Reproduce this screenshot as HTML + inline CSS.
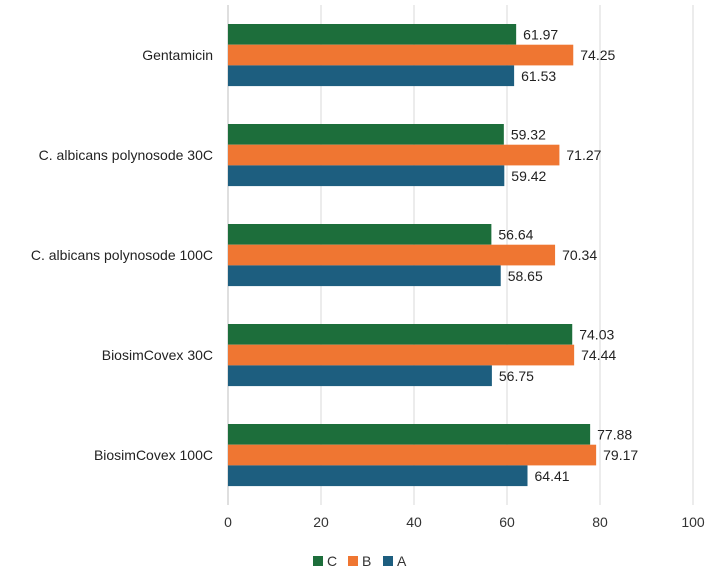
<!DOCTYPE html>
<html><head><meta charset="utf-8"><style>
body{margin:0;background:#fff;font-family:"Liberation Sans",sans-serif;}
</style></head><body>
<svg id="chart" width="711" height="570" xmlns="http://www.w3.org/2000/svg" font-family="Liberation Sans, sans-serif"></svg>
<script>
const categories=["Gentamicin","C. albicans polynosode 30C","C. albicans polynosode 100C","BiosimCovex 30C","BiosimCovex 100C"];
const seriesC=[61.97,59.32,56.64,74.03,77.88];
const seriesB=[74.25,71.27,70.34,74.44,79.17];
const seriesA=[61.53,59.42,58.65,56.75,64.41];
const ticks=[0,20,40,60,80,100];
const seriesNames=["C","B","A"];
const colors=["#1d6e3b","#ef7632","#1d5e7f"];
const svg=document.getElementById('chart');
const NS="http://www.w3.org/2000/svg";
const x0=228,x1=693,yTop=5,yBottom=505;
const xs=v=>x0+(v/100)*(x1-x0);
const bandH=(yBottom-yTop)/categories.length;
function mk(t,a,txt){const e=document.createElementNS(NS,t);for(const k in a)e.setAttribute(k,a[k]);if(txt!==undefined)e.textContent=txt;svg.appendChild(e);return e;}
ticks.forEach(t=>{
 const g=mk('line',{x1:xs(t),x2:xs(t),y1:yTop,y2:yBottom,stroke:t===0?'#bfbfbf':'#d9d9d9','stroke-width':1});
 
 
 const l=mk('text',{x:xs(t),y:527,'text-anchor':'middle','font-size':14,fill:'#333'},String(t));
 
 
});
const all=[seriesC,seriesB,seriesA];
categories.forEach((c,i)=>{
 const gTop=yTop+i*bandH+19;
 const lab=mk('text',{x:213,y:yTop+i*bandH+bandH/2+5,'text-anchor':'end','font-size':14,fill:'#222'},c);
 
 
 all.forEach((s,j)=>{
  const y=gTop+j*20.7;
  const r=mk('rect',{x:x0,y:y,width:xs(s[i])-x0,height:20.7,fill:colors[j]});
  
  
  const v=mk('text',{x:xs(s[i])+7,y:y+15.5,'font-size':14,fill:'#222'},s[i].toFixed(2));
  
  
 });
});
let lx=313;
seriesNames.forEach((n,j)=>{
 const r=mk('rect',{x:lx,y:556,width:10,height:10,fill:colors[j]});
 
 
 const t=mk('text',{x:lx+14,y:566,'font-size':14,fill:'#333'},n);
 
 
 lx+=35;
});
</script>
</body></html>
